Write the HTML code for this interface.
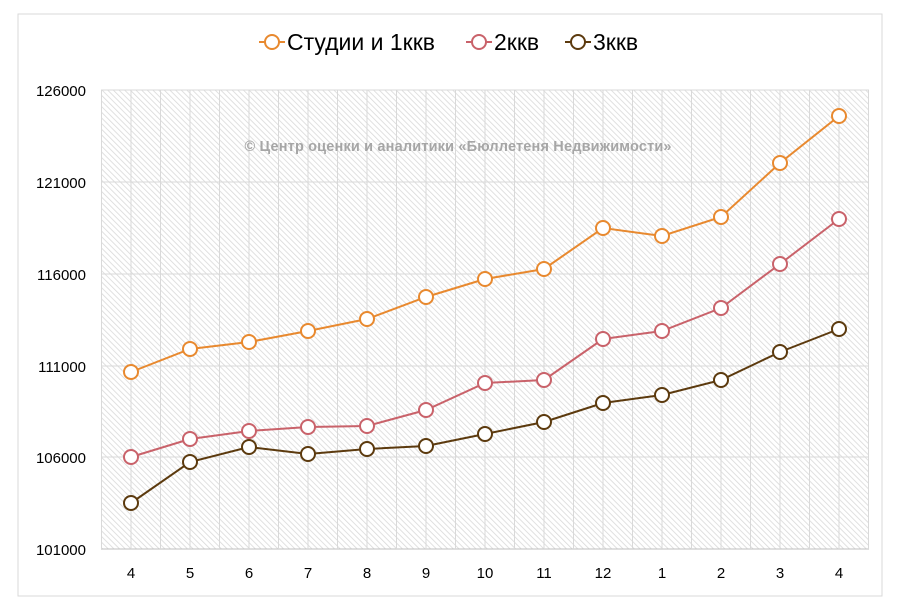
<!DOCTYPE html><html><head><meta charset="utf-8"><style>body{margin:0;background:#fff}svg{display:block;font-family:"Liberation Sans",sans-serif}</style></head><body>
<svg width="900" height="611" viewBox="0 0 900 611">
<defs><pattern id="h" width="4" height="4" patternUnits="userSpaceOnUse" patternTransform="rotate(-45)"><rect width="4" height="4" fill="#fff"/><line x1="0" y1="0" x2="0" y2="4" stroke="#d9d9d9" stroke-width="1.6"/></pattern></defs>
<rect x="18" y="14" width="864" height="582" fill="#fff" stroke="#d9d9d9"/>
<rect x="101" y="90" width="768" height="459" fill="url(#h)"/>
<g stroke="#d9d9d9" stroke-width="1">
<path d="M101 90H869M101 182H869M101 274H869M101 366H869M101 457H869"/>
<path d="M101 549H869" stroke="#bfbfbf"/>
</g>
<g stroke="#d9d9d9" fill="none">
<path d="M101.5 90V549M131 90V549M160.5 90V549M190 90V549M219.5 90V549M249 90V549M278.5 90V549M308 90V549M337.5 90V549M367 90V549M396.5 90V549M426 90V549M455.5 90V549M485 90V549M514.5 90V549M544 90V549M573.5 90V549M603 90V549M632.5 90V549M662 90V549M691.5 90V549M721 90V549M750.5 90V549M780 90V549M809.5 90V549M839 90V549M868.5 90V549"/>
</g>
<text x="458" y="151" text-anchor="middle" font-size="14.5" font-weight="bold" fill="#a6a6a6" textLength="427">© Центр оценки и аналитики «Бюллетеня Недвижимости»</text>
<g font-size="15" fill="#000" text-anchor="end">
<text x="86" y="96">126000</text><text x="86" y="188">121000</text><text x="86" y="280">116000</text><text x="86" y="372">111000</text><text x="86" y="463">106000</text><text x="86" y="555">101000</text>
</g>
<g font-size="15" fill="#000" text-anchor="middle">
<text x="131" y="578">4</text><text x="190" y="578">5</text><text x="249" y="578">6</text><text x="308" y="578">7</text><text x="367" y="578">8</text><text x="426" y="578">9</text><text x="485" y="578">10</text><text x="544" y="578">11</text><text x="603" y="578">12</text><text x="662" y="578">1</text><text x="721" y="578">2</text><text x="780" y="578">3</text><text x="839" y="578">4</text>
</g>
<g fill="#fff" stroke-width="2">
<polyline fill="none" stroke="#e8892f" points="131,372 190,349 249,342 308,331 367,319 426,297 485,279 544,269 603,228 662,236 721,217 780,163 839,116"/>
<polyline fill="none" stroke="#c9626a" points="131,457 190,439 249,431 308,427 367,426 426,410 485,383 544,380 603,339 662,331 721,308 780,264 839,219"/>
<polyline fill="none" stroke="#5c3a0e" points="131,503 190,462 249,447 308,454 367,449 426,446 485,434 544,422 603,403 662,395 721,380 780,352 839,329"/>
<g stroke="#e8892f"><circle cx="131" cy="372" r="7"/><circle cx="190" cy="349" r="7"/><circle cx="249" cy="342" r="7"/><circle cx="308" cy="331" r="7"/><circle cx="367" cy="319" r="7"/><circle cx="426" cy="297" r="7"/><circle cx="485" cy="279" r="7"/><circle cx="544" cy="269" r="7"/><circle cx="603" cy="228" r="7"/><circle cx="662" cy="236" r="7"/><circle cx="721" cy="217" r="7"/><circle cx="780" cy="163" r="7"/><circle cx="839" cy="116" r="7"/></g>
<g stroke="#c9626a"><circle cx="131" cy="457" r="7"/><circle cx="190" cy="439" r="7"/><circle cx="249" cy="431" r="7"/><circle cx="308" cy="427" r="7"/><circle cx="367" cy="426" r="7"/><circle cx="426" cy="410" r="7"/><circle cx="485" cy="383" r="7"/><circle cx="544" cy="380" r="7"/><circle cx="603" cy="339" r="7"/><circle cx="662" cy="331" r="7"/><circle cx="721" cy="308" r="7"/><circle cx="780" cy="264" r="7"/><circle cx="839" cy="219" r="7"/></g>
<g stroke="#5c3a0e"><circle cx="131" cy="503" r="7"/><circle cx="190" cy="462" r="7"/><circle cx="249" cy="447" r="7"/><circle cx="308" cy="454" r="7"/><circle cx="367" cy="449" r="7"/><circle cx="426" cy="446" r="7"/><circle cx="485" cy="434" r="7"/><circle cx="544" cy="422" r="7"/><circle cx="603" cy="403" r="7"/><circle cx="662" cy="395" r="7"/><circle cx="721" cy="380" r="7"/><circle cx="780" cy="352" r="7"/><circle cx="839" cy="329" r="7"/></g>
<g><line x1="259" y1="42" x2="285" y2="42" stroke="#e8892f"/><circle cx="272" cy="42" r="7" stroke="#e8892f"/>
<line x1="466" y1="42" x2="492" y2="42" stroke="#c9626a"/><circle cx="479" cy="42" r="7" stroke="#c9626a"/>
<line x1="565" y1="42" x2="591" y2="42" stroke="#5c3a0e"/><circle cx="578" cy="42" r="7" stroke="#5c3a0e"/></g>
</g>
<g font-size="23" fill="#000"><text x="287" y="50">Студии и 1ккв</text><text x="494" y="50">2ккв</text><text x="593" y="50">3ккв</text></g>
</svg></body></html>
